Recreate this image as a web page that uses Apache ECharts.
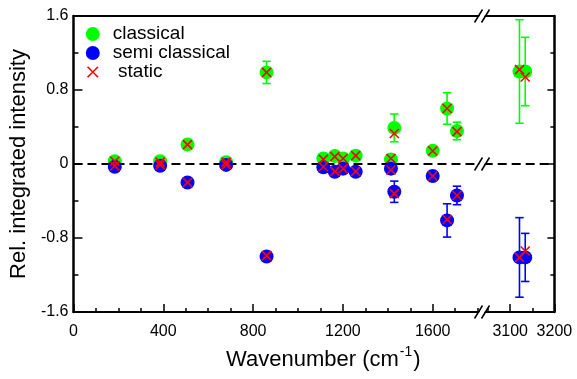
<!DOCTYPE html>
<html><head><meta charset="utf-8">
<script src="https://cdn.jsdelivr.net/npm/echarts@6/dist/echarts.min.js"></script>
<style>html,body{margin:0;padding:0;background:#fff}#c{width:577px;height:379px}</style>
</head><body><div id="c"></div>
<script>
// ---- data ----
const wavenumbers  = [184, 386, 508, 680, 860, 1113, 1164, 1201, 1257, 1414, 1429, 1600, 1664, 1708, 3121, 3134];
const classical    = [0.03, 0.03, 0.21, 0.02, 0.99, 0.06, 0.086, 0.06, 0.09, 0.05, 0.39, 0.144, 0.60, 0.357, 1.0, 1.0];
const classicalErr = [0, 0, 0, 0, 0.12, 0, 0, 0, 0, 0, 0.15, 0, 0.17, 0.095, 0.56, 0.37];
const semiClassical= [-0.03, -0.02, -0.20, -0.01, -1.0, -0.036, -0.083, -0.05, -0.083, -0.05, -0.30, -0.13, -0.61, -0.34, -1.01, -1.01];
const semiErr      = [0, 0, 0, 0, 0.05, 0, 0, 0, 0, 0, 0.115, 0, 0.18, 0.10, 0.43, 0.26];
const staticPos    = [0.03, 0.02, 0.21, 0.02, 0.99, 0.05, 0.08, 0.06, 0.09, 0.06, 0.33, 0.14, 0.60, 0.35, 1.02, 0.94];
const staticNeg    = [-0.02, -0.01, -0.20, -0.01, -0.99, -0.03, -0.08, -0.05, -0.08, -0.065, -0.32, -0.13, -0.60, -0.34, -1.01, -0.94];
const xTicksLeft   = [0, 400, 800, 1200, 1600];
const xTicksRight  = [3100, 3200];
const seriesNames  = ['classical', 'semi classical', 'static'];

// axis ranges (broken axis: two segments)
const LEFT_MIN = 0, LEFT_MAX = 1824, RIGHT_MIN = 3000, RIGHT_MAX = 3200, BREAK_AT = 2000;
const Y_MIN = -1.6, Y_MAX = 1.6;

const FONT = "'Liberation Sans', Arial, Helvetica, sans-serif";
const GREEN = '#00ff00', BLUE = '#0000ff', RED = '#ff0000';
const XPATH = 'path://M0,0M12,12M1.5,1.5L10.5,10.5M10.5,1.5L1.5,10.5';

function pts(vals, seg) {
  return wavenumbers.map((w, i) => [w, vals[i]]).filter(p => seg === 0 ? p[0] < BREAK_AT : p[0] >= BREAK_AT);
}
function errPts(vals, errs, seg) {
  return wavenumbers.map((w, i) => [w, vals[i], errs[i]])
    .filter(p => p[2] > 0 && (seg === 0 ? p[0] < BREAK_AT : p[0] >= BREAK_AT));
}
function errRender(color) {
  return function (params, api) {
    const x = api.value(0), y = api.value(1), e = api.value(2);
    const t = api.coord([x, y + e]), b = api.coord([x, y - e]);
    const hw = 4.2;
    const st = { stroke: color, lineWidth: 1.6 };
    return { type: 'group', children: [
      { type: 'line', shape: { x1: t[0], y1: t[1], x2: b[0], y2: b[1] }, style: st },
      { type: 'line', shape: { x1: t[0] - hw, y1: t[1], x2: t[0] + hw, y2: t[1] }, style: st },
      { type: 'line', shape: { x1: b[0] - hw, y1: b[1], x2: b[0] + hw, y2: b[1] }, style: st }
    ]};
  };
}

const series = [];
[0, 1].forEach(seg => {
  const xi = seg === 0 ? 0 : 2, yi = seg;
  series.push({ type: 'custom', xAxisIndex: xi, yAxisIndex: yi, z: 2,
    renderItem: errRender(GREEN), encode: { x: 0, y: 1 }, data: errPts(classical, classicalErr, seg) });
  series.push({ name: 'classical', type: 'scatter', xAxisIndex: xi, yAxisIndex: yi, z: 3,
    symbol: 'circle', symbolSize: 14, itemStyle: { color: GREEN, opacity: 1 },
    data: pts(classical, seg),
    markLine: { silent: true, symbol: ['none', 'none'], label: { show: false },
      lineStyle: { color: '#000', width: 2, type: [9, 5] },
      data: [[{ coord: [seg === 0 ? LEFT_MIN : 3040, 0] }, { coord: [seg === 0 ? LEFT_MAX : RIGHT_MAX, 0] }]] } });
  series.push({ type: 'custom', xAxisIndex: xi, yAxisIndex: yi, z: 4,
    renderItem: errRender(BLUE), encode: { x: 0, y: 1 }, data: errPts(semiClassical, semiErr, seg) });
  series.push({ name: 'semi classical', type: 'scatter', xAxisIndex: xi, yAxisIndex: yi, z: 5,
    symbol: 'circle', symbolSize: 14, itemStyle: { color: BLUE, opacity: 1 },
    data: pts(semiClassical, seg) });
  series.push({ name: 'static', type: 'scatter', xAxisIndex: xi, yAxisIndex: yi, z: 6,
    symbol: XPATH, symbolSize: 12, itemStyle: { color: RED, borderColor: RED, borderWidth: 1.6, opacity: 1 },
    data: pts(staticPos, seg).concat(pts(staticNeg, seg)) });
});

const axLine = w => ({ show: true, onZero: false, lineStyle: { color: '#000', width: w } });
const plainNum = v => String(Math.round(v));
const chart = echarts.init(document.getElementById('c'), null, { renderer: 'canvas' });
chart.setOption({
  animation: false,
  backgroundColor: '#fff',
  textStyle: { fontFamily: FONT },
  grid: [
    { left: 69, top: 16, width: 414, height: 296 },
    { left: 466, top: 16, width: 88.4, height: 296 }
  ],
  legend: {
    orient: 'vertical', left: 85, top: 24.5, padding: 0, itemGap: 0,
    itemWidth: 30, itemHeight: 14, selectedMode: false,
    textStyle: { fontSize: 19, lineHeight: 19, color: '#000', fontFamily: FONT },
    formatter: n => n === 'static' ? ' static' : n,
    data: [
      { name: seriesNames[0], icon: 'circle', itemStyle: { color: GREEN } },
      { name: seriesNames[1], icon: 'circle', itemStyle: { color: BLUE } },
      { name: seriesNames[2], icon: XPATH, itemStyle: { color: RED, borderColor: RED, borderWidth: 1.6 } }
    ]
  },
  xAxis: [
    { type: 'value', gridIndex: 0, position: 'bottom', min: LEFT_MIN, max: LEFT_MAX, interval: 400,
      axisLine: axLine(2),
      axisTick: { show: true, inside: true, length: 8, customValues: xTicksLeft, lineStyle: { color: '#000', width: 1.5 } },
      minorTick: { show: true, splitNumber: 4, length: 4, lineStyle: { color: '#000', width: 1.5 } },
      axisLabel: { customValues: xTicksLeft, margin: 12, fontSize: 16, color: '#000', fontFamily: FONT, formatter: plainNum },
      splitLine: { show: false } },
    { type: 'value', gridIndex: 0, position: 'top', min: LEFT_MIN, max: LEFT_MAX,
      axisLine: axLine(2), axisTick: { show: false }, axisLabel: { show: false }, splitLine: { show: false } },
    { type: 'value', gridIndex: 1, position: 'bottom', min: RIGHT_MIN, max: RIGHT_MAX, interval: 100,
      axisLine: axLine(2),
      axisTick: { show: true, inside: true, length: 8, customValues: xTicksRight, lineStyle: { color: '#000', width: 1.5 } },
      minorTick: { show: true, splitNumber: 2, length: 4, lineStyle: { color: '#000', width: 1.5 } },
      axisLabel: { customValues: xTicksRight, margin: 12, fontSize: 16, color: '#000', fontFamily: FONT, formatter: plainNum },
      splitLine: { show: false } },
    { type: 'value', gridIndex: 1, position: 'top', min: RIGHT_MIN, max: RIGHT_MAX,
      axisLine: axLine(2), axisTick: { show: false }, axisLabel: { show: false }, splitLine: { show: false } }
  ],
  yAxis: [
    { type: 'value', gridIndex: 0, position: 'left', min: Y_MIN, max: Y_MAX, interval: 0.8,
      name: 'Rel. integrated intensity', nameLocation: 'middle', nameGap: 40,
      nameTextStyle: { fontSize: 22, color: '#000', fontFamily: FONT },
      axisLine: axLine(2.5),
      axisTick: { show: true, inside: true, length: 9, lineStyle: { color: '#000', width: 1.5 } },
      minorTick: { show: true, splitNumber: 2, length: 5, lineStyle: { color: '#000', width: 1.5 } },
      axisLabel: { margin: 5, fontSize: 16, color: '#000', fontFamily: FONT,
        formatter: v => Math.abs(v) < 1e-9 ? '0' : v.toFixed(1) },
      splitLine: { show: false } },
    { type: 'value', gridIndex: 1, position: 'right', min: Y_MIN, max: Y_MAX, interval: 0.8,
      axisLine: axLine(2.5),
      axisTick: { show: true, inside: true, length: 7, lineStyle: { color: '#000', width: 1.5 } },
      minorTick: { show: true, splitNumber: 2, length: 4, lineStyle: { color: '#000', width: 1.5 } },
      axisLabel: { show: false }, splitLine: { show: false } }
  ],
  series: series
});

// axis-break marks "//" placed from the chart's own scales
const bx = chart.convertToPixel({ xAxisIndex: 0 }, LEFT_MAX) - 1;
const ys = [Y_MAX, 0, Y_MIN].map(v => chart.convertToPixel({ yAxisIndex: 0 }, v));
const graphics = [];
ys.forEach(y => {
  const dx = 4, dy = 6.5, sp = 3.5;
  graphics.push({ type: 'polygon', z: 100, shape: { points: [
      [bx - sp - dx + 1, y + dy], [bx - sp + dx + 1, y - dy], [bx + sp + dx - 1, y - dy], [bx + sp - dx - 1, y + dy]] },
    style: { fill: '#fff' } });
  [-sp, sp].forEach(o => graphics.push({ type: 'line', z: 101,
    shape: { x1: bx + o - dx, y1: y + dy, x2: bx + o + dx, y2: y - dy },
    style: { stroke: '#000', lineWidth: 1.5 } }));
});
graphics.push({ type: 'text', z: 102, left: 226, top: 345,
  style: { text: '{a|Wavenumber (cm}{s|-1}{a|)}', fill: '#000',
    rich: { a: { fontSize: 22, fontFamily: FONT, lineHeight: 26, verticalAlign: 'bottom' },
            s: { fontSize: 14, fontFamily: FONT, lineHeight: 26, verticalAlign: 'top', padding: [0, 1, 0, 1] } } } });
chart.setOption({ graphic: graphics });
</script></body></html>
